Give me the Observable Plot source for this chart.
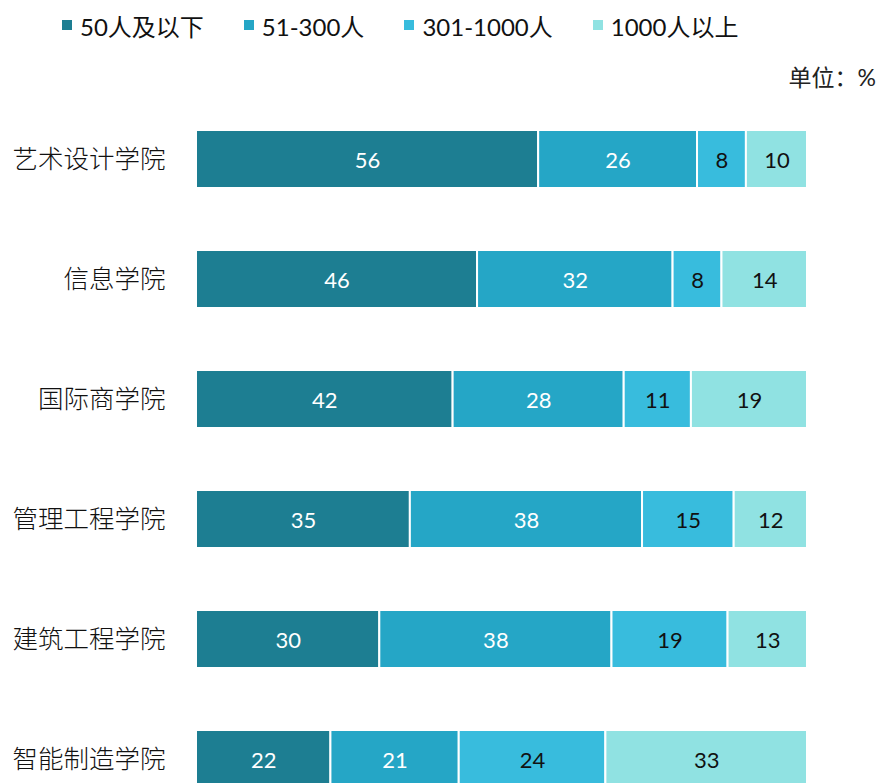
<!DOCTYPE html>
<html>
<head>
<meta charset="utf-8">
<script src="https://cdn.jsdelivr.net/npm/d3@7"></script>
<script src="https://cdn.jsdelivr.net/npm/@observablehq/plot@0.6"></script>
<style>
  body { margin: 0; background: #fff; font-family: Lato, "Noto Sans CJK SC", sans-serif; }
  #wrap { position: relative; width: 879px; }
  #legend { height: 50px; display: flex; align-items: center; padding-left: 62px; gap: 40px; font-size: 24px; color: #111; }
  .item { display: flex; align-items: center; }
  .sw { width: 10px; height: 10px; margin-right: 8px; }
  #unit { height: 40px; text-align: right; padding-right: 3px; font-size: 23px; color: #222; line-height: 54px; }
  svg { display: block; }
</style>
</head>
<body>
<div id="wrap">
  <div id="legend"></div>
  <div id="unit">单位：%</div>
  <div id="chart"></div>
</div>
<script>
const colleges = ["艺术设计学院", "信息学院", "国际商学院", "管理工程学院", "建筑工程学院", "智能制造学院"];
const sizes = ["50人及以下", "51-300人", "301-1000人", "1000人以上"];
const colors = ["#1d7e92", "#25a6c6", "#38bcdd", "#90e2e2"];
const textColors = ["#ffffff", "#ffffff", "#111111", "#111111"];
const v50 = [56, 46, 42, 35, 30, 22];
const v300 = [26, 32, 28, 38, 38, 21];
const v1000 = [8, 8, 11, 15, 19, 24];
const vOver = [10, 14, 19, 12, 13, 33];

const series = [v50, v300, v1000, vOver];
const data = [];
colleges.forEach((c, i) => {
  sizes.forEach((s, j) => {
    data.push({college: c, size: s, value: series[j][i], tc: textColors[j]});
  });
});

const legend = document.getElementById("legend");
sizes.forEach((s, j) => {
  const it = document.createElement("div");
  it.className = "item";
  const sw = document.createElement("span");
  sw.className = "sw";
  sw.style.background = colors[j];
  const t = document.createElement("span");
  t.textContent = s;
  it.appendChild(sw); it.appendChild(t);
  legend.appendChild(it);
});

const chart = Plot.plot({
  width: 879,
  height: 698,
  marginTop: 40,
  marginBottom: 0,
  marginLeft: 196,
  marginRight: 72,
  style: {fontFamily: 'Lato, "Noto Sans CJK SC", sans-serif', fontSize: "20px", background: "#fff"},
  x: {domain: [0, 100], axis: null},
  y: {domain: colleges, paddingInner: 62/120, paddingOuter: 0, label: null},
  color: {domain: sizes, range: colors},
  marks: [
    Plot.barX(data, Plot.stackX({x: "value", y: "college", fill: "size", stroke: "#ffffff", strokeWidth: 2, order: sizes})),
    Plot.text(data, Plot.stackX({x: "value", y: "college", text: d => String(d.value), fill: "tc", order: sizes, z: "size", fontSize: 22, dy: 1})),
    Plot.axisY({tickSize: 0, tickPadding: 31, fontSize: 25.5, fontWeight: 300, fill: "#111", fontFamily: '"Noto Sans CJK SC", sans-serif'})
  ]
});
document.getElementById("chart").appendChild(chart);
</script>
</body>
</html>
